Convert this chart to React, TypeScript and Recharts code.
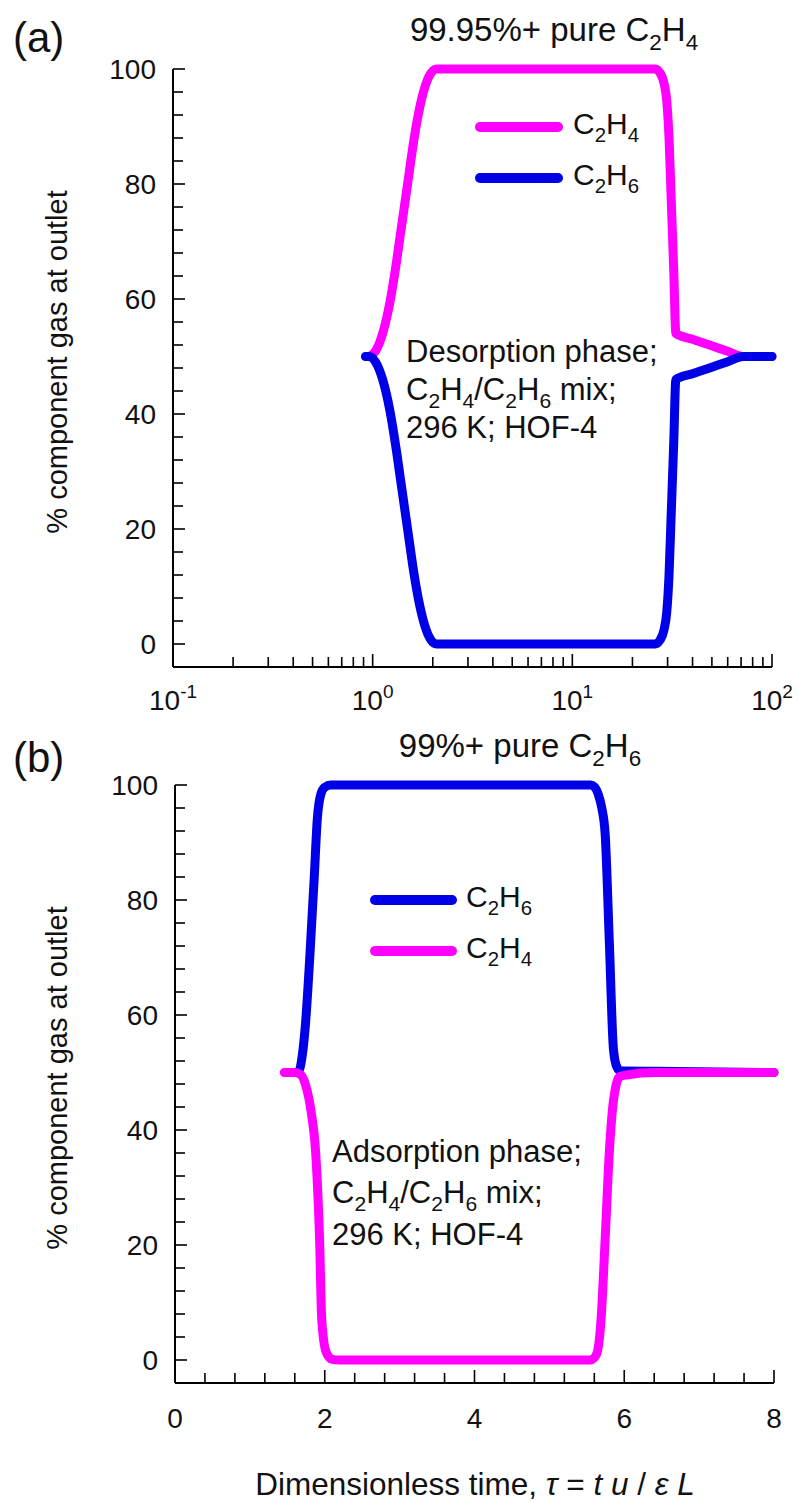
import React from 'react';
import { LineChart, Line, XAxis, YAxis, Legend } from 'recharts';

const FONT = '"Liberation Sans", Arial, Helvetica, sans-serif';
const PINK = '#FF00FF';
const BLUE = '#0000E6';

// ---------- Panel (a): desorption, log time axis ----------
const desorbC2H4 = [
  { x: 0.96, y: 50 }, { x: 1.036, y: 51 }, { x: 1.124, y: 54.1 }, { x: 1.218, y: 59.3 },
  { x: 1.318, y: 66.6 }, { x: 1.38, y: 71.5 }, { x: 1.45, y: 76.7 }, { x: 1.52, y: 81.7 },
  { x: 1.585, y: 86.2 }, { x: 1.695, y: 92.2 }, { x: 1.815, y: 96.55 }, { x: 1.946, y: 99.14 },
  { x: 2.09, y: 100 }, { x: 26, y: 100 }, { x: 27.5, y: 99.3 }, { x: 28.8, y: 97.5 },
  { x: 29.7, y: 94.5 }, { x: 30.5, y: 88 }, { x: 31.3, y: 77 }, { x: 32.2, y: 65 },
  { x: 33, y: 54 }, { x: 40, y: 53 }, { x: 48.7, y: 52 }, { x: 60, y: 50.9 },
  { x: 71.6, y: 50 }, { x: 100, y: 50 },
];
const desorbC2H6 = [
  { x: 0.92, y: 50 }, { x: 0.96, y: 50 }, { x: 1.036, y: 49 }, { x: 1.124, y: 45.9 },
  { x: 1.218, y: 40.7 }, { x: 1.318, y: 33.4 }, { x: 1.38, y: 28.5 }, { x: 1.45, y: 23.3 },
  { x: 1.52, y: 18.3 }, { x: 1.585, y: 13.8 }, { x: 1.695, y: 7.8 }, { x: 1.815, y: 3.45 },
  { x: 1.946, y: 0.86 }, { x: 2.09, y: 0 }, { x: 26, y: 0 }, { x: 27.5, y: 0.7 },
  { x: 28.8, y: 2.5 }, { x: 29.7, y: 5.5 }, { x: 30.5, y: 12 }, { x: 31.3, y: 23 },
  { x: 32.2, y: 35 }, { x: 33, y: 46 }, { x: 40, y: 47 }, { x: 48.7, y: 48 },
  { x: 60, y: 49.1 }, { x: 71.6, y: 50 }, { x: 100, y: 50 },
];

// ---------- Panel (b): adsorption, linear time axis ----------
const adsorbC2H6 = [
  { x: 1.62, y: 50 }, { x: 1.66, y: 50.4 }, { x: 1.7, y: 53 }, { x: 1.74, y: 58 },
  { x: 1.8, y: 70 }, { x: 1.86, y: 84 }, { x: 1.9, y: 94 }, { x: 1.95, y: 98.5 },
  { x: 2.0, y: 99.6 }, { x: 2.08, y: 100 }, { x: 5.55, y: 100 }, { x: 5.6, y: 99.7 },
  { x: 5.65, y: 98.5 }, { x: 5.7, y: 96 }, { x: 5.745, y: 91.5 }, { x: 5.8, y: 73 },
  { x: 5.856, y: 54 }, { x: 5.9, y: 51 }, { x: 5.95, y: 50.3 }, { x: 6.4, y: 50.2 },
  { x: 8.0, y: 50 },
];
const adsorbC2H4 = [
  { x: 1.46, y: 50 }, { x: 1.6, y: 50 }, { x: 1.68, y: 49.6 }, { x: 1.74, y: 48 },
  { x: 1.82, y: 43 }, { x: 1.88, y: 35.8 }, { x: 1.93, y: 21.4 }, { x: 1.96, y: 7 },
  { x: 2.02, y: 1.3 }, { x: 2.1, y: 0.1 }, { x: 2.2, y: 0 }, { x: 5.55, y: 0 },
  { x: 5.63, y: 1 }, { x: 5.69, y: 7 }, { x: 5.745, y: 21 }, { x: 5.8, y: 36 },
  { x: 5.855, y: 45 }, { x: 5.94, y: 49.3 }, { x: 6.05, y: 49.6 }, { x: 6.4, y: 50 },
  { x: 8.0, y: 50 },
];

// ---------- ticks / legend order ----------
const Y_TICKS = [0, 4, 8, 12, 16, 20, 24, 28, 32, 36, 40, 44, 48, 52, 56, 60, 64, 68, 72, 76, 80, 84, 88, 92, 96, 100];
const Y_LABELS = [0, 20, 40, 60, 80, 100];
const LOG_TICKS = [0.1, 0.2, 0.3, 0.4, 0.5, 0.6, 0.7, 0.8, 0.9, 1, 2, 3, 4, 5, 6, 7, 8, 9, 10, 20, 30, 40, 50, 60, 70, 80, 90, 100];
const LOG_LABELS = [0.1, 1, 10, 100];
const LOG_EXPONENTS = ['-1', '0', '1', '2'];
const LIN_TICKS = [0, 0.4, 0.8, 1.2, 1.6, 2, 2.4, 2.8, 3.2, 3.6, 4, 4.4, 4.8, 5.2, 5.6, 6, 6.4, 6.8, 7.2, 7.6, 8];
const LIN_LABELS = [0, 2, 4, 6, 8];
const LEGEND_ORDER_A = ['C_2H_4', 'C_2H_6'];
const LEGEND_ORDER_B = ['C_2H_6', 'C_2H_4'];

const TICK_FS = 28;

// text with "_d" subscripts
function chem(s: string, fs: number) {
  const parts = s.split(/(_\d)/).filter((p) => p.length > 0);
  const out: React.ReactNode[] = [];
  let shifted = false;
  const sh = fs * 0.27;
  parts.forEach((p, i) => {
    if (p.startsWith('_')) {
      out.push(
        <tspan key={i} dy={shifted ? 0 : sh} fontSize={fs * 0.68}>{p.slice(1)}</tspan>
      );
      shifted = true;
    } else {
      out.push(
        <tspan key={i} dy={shifted ? -sh : 0} fontSize={fs}>{p}</tspan>
      );
      shifted = false;
    }
  });
  return out;
}

const YTick = (props: any) => {
  const { x, y, payload } = props;
  const v = payload.value;
  const major = Y_LABELS.includes(v);
  return (
    <g>
      <line x1={x} x2={x + (major ? 12 : 10)} y1={y} y2={y} stroke="#000" strokeWidth={1.6} />
      {major && (
        <text x={x - 17} y={y} dy={10} textAnchor="end" fontSize={TICK_FS} fontFamily={FONT} fill="#111">
          {v}
        </text>
      )}
    </g>
  );
};

const XLogTick = (props: any) => {
  const { x, y, payload } = props;
  const v = payload.value;
  const idx = LOG_LABELS.indexOf(v);
  const major = idx >= 0;
  return (
    <g>
      <line x1={x} x2={x} y1={y} y2={y - (major ? 13 : 10)} stroke="#000" strokeWidth={1.6} />
      {major && (
        <text x={x} y={y + 43} textAnchor="middle" fontFamily={FONT} fill="#111" fontSize={TICK_FS}>
          <tspan>10</tspan>
          <tspan dy={-12} fontSize={19}>{LOG_EXPONENTS[idx]}</tspan>
        </text>
      )}
    </g>
  );
};

const XLinTick = (props: any) => {
  const { x, y, payload } = props;
  const v = payload.value;
  const major = LIN_LABELS.includes(v);
  return (
    <g>
      <line x1={x} x2={x} y1={y} y2={y - (major ? 13 : 10)} stroke="#000" strokeWidth={1.6} />
      {major && (
        <text x={x} y={y + 45} textAnchor="middle" fontFamily={FONT} fill="#111" fontSize={TICK_FS}>
          {v}
        </text>
      )}
    </g>
  );
};

const LegendBox = (props: any) => {
  const { payload, labelX, lineX2, order } = props;
  const items = [...(payload || [])].sort(
    (a: any, b: any) => order.indexOf(a.value) - order.indexOf(b.value)
  );
  return (
    <svg width={220} height={120} style={{ overflow: 'visible' }}>
      {items.map((e: any, i: number) => {
        const ly = 27 + i * 51;
        return (
          <g key={i}>
            <line x1={10} x2={lineX2} y1={ly} y2={ly} stroke={e.color} strokeWidth={10} strokeLinecap="round" />
            <text x={labelX} y={ly + 7} fontFamily={FONT} fontSize={30} fill="#111">
              {chem(e.value, 30)}
            </text>
          </g>
        );
      })}
    </svg>
  );
};

const axisLine = { stroke: '#000', strokeWidth: 2 };

export default function App() {
  return (
    <div style={{ position: 'absolute', left: 0, top: 0, width: 799, height: 1502, background: '#fff', overflow: 'hidden' }}>
      {/* Panel (a) */}
      <div style={{ position: 'absolute', left: 0, top: 0 }}>
        <LineChart width={799} height={760} margin={{ top: 69, right: 27, bottom: 63, left: 113 }}>
          <XAxis
            dataKey="x"
            type="number"
            scale="log"
            domain={[0.1, 100]}
            ticks={LOG_TICKS}
            interval={0}
            tickLine={false}
            tickSize={0}
            tickMargin={0}
            height={30}
            axisLine={axisLine}
            tick={(p: any) => <XLogTick {...p} />}
          />
          <YAxis
            dataKey="y"
            type="number"
            domain={[-4, 100]}
            ticks={Y_TICKS}
            interval={0}
            tickLine={false}
            tickSize={0}
            tickMargin={0}
            width={60}
            axisLine={axisLine}
            tick={(p: any) => <YTick {...p} />}
          />
          <Line data={desorbC2H4} dataKey="y" name="C_2H_4" type="monotone" stroke={PINK} strokeWidth={9}
            strokeLinecap="round" strokeLinejoin="round" dot={false} activeDot={false} isAnimationActive={false} />
          <Line data={desorbC2H6} dataKey="y" name="C_2H_6" type="monotone" stroke={BLUE} strokeWidth={9}
            strokeLinecap="round" strokeLinejoin="round" dot={false} activeDot={false} isAnimationActive={false} />
          <Legend
            layout="horizontal"
            verticalAlign="middle"
            align="center"
            wrapperStyle={{ position: 'absolute', left: 470, top: 100, width: 220, height: 120 }}
            content={(p: any) => <LegendBox payload={p.payload} lineX2={88} labelX={103} order={LEGEND_ORDER_A} />}
          />
        </LineChart>
      </div>

      {/* Panel (b) */}
      <div style={{ position: 'absolute', left: 0, top: 716 }}>
        <LineChart width={799} height={786} margin={{ top: 69, right: 25, bottom: 89, left: 115 }}>
          <XAxis
            dataKey="x"
            type="number"
            domain={[0, 8]}
            ticks={LIN_TICKS}
            interval={0}
            tickLine={false}
            tickSize={0}
            tickMargin={0}
            height={30}
            axisLine={axisLine}
            tick={(p: any) => <XLinTick {...p} />}
          />
          <YAxis
            dataKey="y"
            type="number"
            domain={[-4, 100]}
            ticks={Y_TICKS}
            interval={0}
            tickLine={false}
            tickSize={0}
            tickMargin={0}
            width={60}
            axisLine={axisLine}
            tick={(p: any) => <YTick {...p} />}
          />
          <Line data={adsorbC2H6} dataKey="y" name="C_2H_6" type="monotone" stroke={BLUE} strokeWidth={9}
            strokeLinecap="round" strokeLinejoin="round" dot={false} activeDot={false} isAnimationActive={false} />
          <Line data={adsorbC2H4} dataKey="y" name="C_2H_4" type="monotone" stroke={PINK} strokeWidth={9}
            strokeLinecap="round" strokeLinejoin="round" dot={false} activeDot={false} isAnimationActive={false} />
          <Legend
            layout="horizontal"
            verticalAlign="middle"
            align="center"
            wrapperStyle={{ position: 'absolute', left: 365, top: 157, width: 220, height: 120 }}
            content={(p: any) => <LegendBox payload={p.payload} lineX2={87} labelX={101} order={LEGEND_ORDER_B} />}
          />
        </LineChart>
      </div>

      {/* Text overlay */}
      <svg width={799} height={1502} style={{ position: 'absolute', left: 0, top: 0, pointerEvents: 'none' }}
        fontFamily={FONT} fill="#111">
        <text x={13} y={52} fontSize={42}>(a)</text>
        <text x={554} y={41} fontSize={33} textAnchor="middle">{chem('99.95%+ pure C_2H_4', 33)}</text>
        <text x={67} y={362} fontSize={29} textAnchor="middle" transform="rotate(-90, 67, 362)">% component gas at outlet</text>
        <text x={406} y={362} fontSize={31}>Desorption phase;</text>
        <text x={406} y={400} fontSize={31}>{chem('C_2H_4/C_2H_6 mix;', 31)}</text>
        <text x={406} y={438} fontSize={31}>296 K; HOF-4</text>

        <text x={13} y={772} fontSize={42}>(b)</text>
        <text x={520} y={757} fontSize={33} textAnchor="middle">{chem('99%+ pure C_2H_6', 33)}</text>
        <text x={67} y={1078} fontSize={29} textAnchor="middle" transform="rotate(-90, 67, 1078)">% component gas at outlet</text>
        <text x={332} y={1162} fontSize={31}>Adsorption phase;</text>
        <text x={332} y={1203} fontSize={31}>{chem('C_2H_4/C_2H_6 mix;', 31)}</text>
        <text x={332} y={1245} fontSize={31}>296 K; HOF-4</text>

        <text x={475} y={1495} fontSize={31.5} textAnchor="middle">
          Dimensionless time, <tspan fontStyle="italic">τ</tspan> = <tspan fontStyle="italic">t u</tspan> / <tspan fontStyle="italic">ε L</tspan>
        </text>
      </svg>
    </div>
  );
}
